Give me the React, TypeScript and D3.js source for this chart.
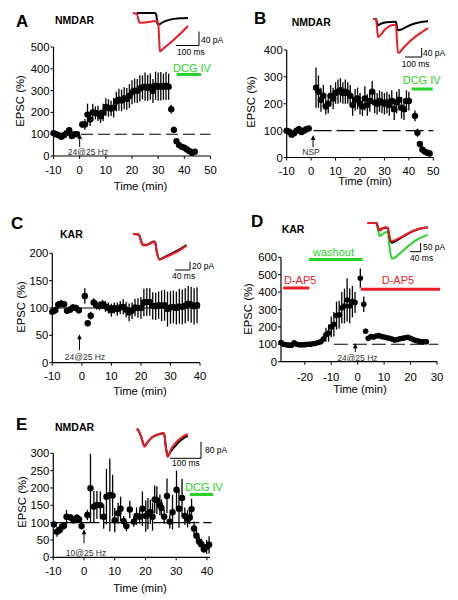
import React from 'react';
import * as d3 from 'd3';

// ---------------- DATA ----------------
// Panel A (NMDAR, 24@25 Hz)
const A_time = [-10,-9,-8,-7,-6,-5,-4,-3,-2,-1,1,2,3,4,5,6,7,8,9,10,11,12,13,14,15,16,17,18,19,20,21,22,23,24,25,26,27,28,29,30,31,32,33,34,35,36,37,38,39,40,41,42,43,44];
const A_value = [105,100,95,88,95,105,118,92,100,100,145,145,190,168,200,198,195,182,200,225,220,218,222,250,258,255,265,262,275,292,300,298,310,315,318,312,318,298,322,318,320,318,322,318,215,120,68,50,42,38,30,22,15,20];
const A_err = [8,8,6,8,8,10,12,8,8,8,15,25,50,30,40,30,35,30,40,40,40,35,45,45,50,50,50,50,55,55,55,55,60,55,65,60,60,55,65,65,65,60,65,60,20,15,10,8,6,6,5,5,5,5];

// Panel B (NMDAR, NSP)
const B_time = [-10,-9,-8,-7,-6,-5,-4,-3,-2,-1,2,3,4,5,6,7,8,9,10,11,12,13,14,15,16,17,18,19,20,21,22,23,24,25,26,27,28,29,30,31,32,33,34,35,36,37,38,39,40,42.5,43.5,44.5,45.5,46.5,47.5,48.5];
const B_value = [100,96,85,90,100,105,95,100,105,108,260,245,215,230,190,200,230,220,240,245,250,240,245,240,230,195,215,220,200,190,220,195,210,245,205,200,210,205,200,205,195,210,180,205,215,185,180,210,210,155,92,50,30,22,18,15];
const B_err = [8,8,8,8,8,8,8,8,8,8,75,60,45,40,30,35,40,40,40,45,45,40,45,40,40,40,40,40,40,35,45,40,40,40,40,40,40,40,40,40,40,40,40,40,40,40,40,40,35,20,15,6,5,5,5,5];

// Panel C (KAR, 24@25 Hz)
const C_time = [-10,-9,-8,-7,-6,-5,-4,-3,-2,-1,1,2,3,4,5,6,7,8,9,10,11,12,13,14,15,16,17,18,19,20,21,22,23,24,25,26,27,28,29,30,31,32,33,34,35,36,37,38,39];
const C_value = [93,96,106,108,107,95,97,101,100,96,122,72,86,110,105,104,107,103,100,96,100,98,101,102,97,92,95,101,100,100,110,111,111,104,103,105,104,105,98,101,102,100,103,102,104,108,106,103,105];
const C_err = [6,6,7,7,6,6,6,6,6,6,14,5,7,8,8,8,8,10,10,12,10,12,12,14,14,16,15,16,18,20,25,25,25,25,25,25,28,28,32,30,30,30,32,32,32,32,33,33,33];

// Panel D (KAR, D-AP5 / washout)
const D_time = [-29,-28,-27,-26,-25,-24,-23,-22,-21,-20,-19,-18,-17,-16,-15,-14,-13,-12,-11,-10,-9,-8,-7,-6,-5,-4,-3,-2,-1,1,2.3,3,4,5,6,7,8,9,10,11,12,13,14,15,16,17,18,19,20,21,22,23,24,25,26];
const D_value = [110,100,97,95,95,108,100,97,97,98,100,100,103,105,110,115,130,155,165,200,215,265,270,310,320,355,320,345,340,480,330,175,135,145,142,148,150,145,142,138,135,130,125,128,132,135,138,140,135,128,122,118,115,115,115];
const D_err = [8,8,8,8,8,8,8,8,8,8,8,8,8,10,12,15,20,40,50,60,70,80,80,90,100,125,100,90,60,55,45,15,12,12,12,12,12,12,12,12,12,12,12,12,12,12,12,12,12,12,12,12,12,12,12];

// Panel E (NMDAR, 10@25 Hz)
const E_time = [-9.8,-8.8,-7.9,-7.2,-6.5,-5.7,-4.4,-3.4,-2.3,-1.6,-0.8,1.1,2.1,3.2,4.2,5.3,6.4,7.3,8.4,9.3,10,11.1,11.9,12.9,13.8,14.9,16.2,17.1,18.1,19,20.1,20.8,21.6,22.3,23,23.7,24.7,25.2,26.1,27,27.9,28.8,30.1,30.9,31.9,32.8,33.7,34.4,35,35.8,36.6,37.5,38.2,39,39.9,40.7];
const E_value = [95,74,79,88,91,117,115,107,114,109,90,122,199,146,151,150,117,175,180,178,107,127,140,104,90,138,103,119,117,140,119,126,131,117,167,165,151,142,117,177,103,130,195,140,171,119,111,115,139,83,62,45,38,23,30,36];
const E_err = [10,15,12,10,10,20,10,10,10,8,10,15,100,45,40,40,35,80,105,60,35,30,35,15,15,25,15,25,20,50,45,45,35,40,40,40,30,25,20,50,20,50,55,55,55,25,25,20,30,20,20,15,15,10,20,25];

// Tick labels
const TICKS_X_A = [-10, 0, 10, 20, 30, 40, 50];
const TICKS_Y_A = [0, 100, 200, 300, 400, 500];
const TICKS_X_B = [-10, 0, 10, 20, 30, 40, 50];
const TICKS_Y_B = [0, 100, 200, 300, 400];
const TICKS_X_C = [-10, 0, 10, 20, 30, 40];
const TICKS_Y_C = [0, 50, 100, 150, 200];
const TICKS_X_D = [-20, -10, 0, 10, 20, 30];
const TICKS_Y_D = [0, 100, 200, 300, 400, 500, 600];
const TICKS_X_E = [-10, 0, 10, 20, 30, 40];
const TICKS_Y_E = [0, 50, 100, 150, 200, 250, 300];

// Inset traces (ms, pA)
const TA_red_ms = [0, 17, 24, 28, 52, 83, 104, 110, 114, 117, 130, 161, 191, 217, 239];
const TA_red_pA = [0, -3, -20, -28, -27, -24, -23, -30, -80, -110, -103, -86, -68, -52, -37];
const TA_blk_ms = [16, 52, 96, 102, 106, 111, 130, 161, 204, 239];
const TA_blk_pA = [0, 0, 0, -8, -30, -33, -26, -19, -15, -14];

const TB_red_ms = [0, 18, 24, 30, 45, 70, 100, 130, 138, 143, 150, 160, 180, 220, 260, 300, 330];
const TB_red_pA = [0, 0, -40, -80, -72, -48, -32, -26, -28, -90, -150, -148, -130, -100, -75, -55, -40];
const TB_blk_ms = [0, 18, 24, 30, 50, 80, 130, 138, 143, 150, 165, 200, 250, 300, 330];
const TB_blk_pA = [0, 0, -15, -28, -20, -14, -12, -13, -35, -50, -48, -35, -20, -12, -10];

const TC_ms = [0, 15, 20, 25, 35, 45, 55, 58, 62, 70, 80, 100, 120, 142];
const TC_red_pA = [0, -2, -15, -27, -27, -23, -19, -20, -40, -62, -58, -50, -41, -28];
const TC_blk_pA = [0, -2, -14, -26, -26, -22, -18, -19, -40, -61, -57, -48, -39, -27];

const TD_ms = [0, 33, 40, 45, 55, 70, 75, 82, 90, 100, 120, 150, 180, 225];
const TD_red_pA = [0, 0, -30, -40, -30, -25, -28, -80, -105, -100, -85, -60, -40, -25];
const TD_grn_pA = [0, 0, -50, -75, -65, -52, -55, -140, -205, -200, -175, -135, -100, -68];
const TD_blk_pA = [0, 0, -32, -42, -32, -27, -30, -85, -113, -108, -90, -62, -40, -24];

const TE_ms = [0, 5, 15, 25, 35, 50, 70, 88, 95, 100, 110, 130, 150, 165];
const TE_red_pA = [0, -5, -40, -85, -65, -40, -25, -20, -100, -135, -100, -60, -35, -25];
const TE_blk_pA = [0, -5, -40, -82, -63, -40, -26, -21, -95, -130, -108, -72, -45, -32];

// ---------------- STYLE ----------------
const FONT = 'Liberation Sans, Arial, Helvetica, sans-serif';
const RED = '#ec1c24';
const GREEN = '#27d327';
const GREY = '#333';

type Bar = { text: string; color: string; tx: number; ty: number; x1: number; x2: number; y: number };

type PanelProps = {
  letter: string; letterX: number; letterY: number;
  sub: string; subX: number; subY: number;
  xDomain: [number, number]; xRange: [number, number];
  yDomain: [number, number]; yRange: [number, number];
  xTicks: number[]; yTicks: number[];
  time: number[]; value: number[]; err: number[]; r: number;
  yLabelX: number; yLabelY: number;
  timeLabelX: number; tickOff: number; titleOff: number;
  ref: { from: number; to: number; dash: string | null };
  arrow: { t: number; tip: number; bottom: number; label: string; lx: number; ly: number };
  bars: Bar[];
};

function Panel(p: PanelProps) {
  const sx = d3.scaleLinear().domain(p.xDomain).range(p.xRange);
  const sy = d3.scaleLinear().domain(p.yDomain).range(p.yRange);
  const y0 = p.yRange[0];
  const x0 = p.xRange[0];
  const ax = sx(p.arrow.t);
  return (
    <g fontFamily={FONT}>
      <text x={p.letterX} y={p.letterY} fontSize={17} fontWeight="bold">{p.letter}</text>
      <text x={p.subX} y={p.subY} fontSize={10.5} fontWeight="bold">{p.sub}</text>
      <line x1={sx(p.ref.from)} x2={sx(p.ref.to)} y1={sy(100)} y2={sy(100)} stroke="#000" strokeWidth={1.1}
        strokeDasharray={p.ref.dash ?? undefined} />
      <line x1={x0} x2={p.xRange[1]} y1={y0} y2={y0} stroke="#000" strokeWidth={1.2} />
      <line x1={x0} x2={x0} y1={y0} y2={p.yRange[1]} stroke="#000" strokeWidth={1.2} />
      {p.xTicks.map(t => (
        <g key={'x' + t}>
          <line x1={sx(t)} x2={sx(t)} y1={y0} y2={y0 + 3} stroke="#000" />
          <text x={sx(t)} y={y0 + p.tickOff} fontSize={11.3} textAnchor="middle">{t}</text>
        </g>
      ))}
      {p.yTicks.map(t => (
        <g key={'y' + t}>
          <line x1={x0 - 3} x2={x0} y1={sy(t)} y2={sy(t)} stroke="#000" />
          <text x={x0 - 4} y={sy(t) + 4} fontSize={11.3} textAnchor="end">{t}</text>
        </g>
      ))}
      <text x={p.timeLabelX} y={y0 + p.titleOff} fontSize={11.3} textAnchor="middle">Time (min)</text>
      <text transform={`translate(${p.yLabelX},${p.yLabelY}) rotate(-90)`} fontSize={11.3} textAnchor="middle">EPSC (%)</text>
      {p.time.map((t, i) => (
        <line key={'e' + i} x1={sx(t)} x2={sx(t)} y1={sy(Math.max(0, p.value[i] - p.err[i]))} y2={sy(p.value[i] + p.err[i])}
          stroke="#000" strokeWidth={1.3} />
      ))}
      {p.time.map((t, i) => (
        <circle key={'c' + i} cx={sx(t)} cy={sy(p.value[i])} r={p.r} fill="#000" />
      ))}
      <line x1={ax} x2={ax} y1={p.arrow.bottom} y2={p.arrow.tip + 3} stroke="#000" strokeWidth={1} />
      <path d={`M${ax},${p.arrow.tip} L${ax - 2.3},${p.arrow.tip + 5} L${ax + 2.3},${p.arrow.tip + 5} Z`} fill="#000" />
      <text x={p.arrow.lx} y={p.arrow.ly} fontSize={8.5} fill={GREY} textAnchor="middle">{p.arrow.label}</text>
      {p.bars.map((b, i) => (
        <g key={'b' + i}>
          <text x={b.tx} y={b.ty} fontSize={11} fill={b.color}>{b.text}</text>
          <line x1={b.x1} x2={b.x2} y1={b.y} y2={b.y} stroke={b.color} strokeWidth={3} />
        </g>
      ))}
    </g>
  );
}

type Trace = { ms: number[]; pA: number[]; color: string };
type InsetProps = {
  x0: number; y0: number; pxMs: number; pxPA: number; traces: Trace[];
  cx: number; cy: number; barMs: number; barPA: number;
  paLabel: string; msLabel: string; paX: number; paY: number; msX: number; msY: number;
};

function Inset(p: InsetProps) {
  const ix = d3.scaleLinear().domain([0, 100]).range([p.x0, p.x0 + 100 * p.pxMs]);
  const iy = d3.scaleLinear().domain([0, -100]).range([p.y0, p.y0 + 100 * p.pxPA]);
  const gen = d3.line<[number, number]>().x(d => d[0]).y(d => d[1]).curve(d3.curveMonotoneX);
  return (
    <g fontFamily={FONT}>
      {p.traces.map((tr, k) => {
        const pts = tr.ms.map((m, i) => [ix(m), iy(tr.pA[i])] as [number, number]);
        return <path key={k} d={gen(pts) ?? ''} fill="none" stroke={tr.color} strokeWidth={2} strokeLinejoin="round" />;
      })}
      <line x1={p.cx - p.barMs * p.pxMs} x2={p.cx} y1={p.cy} y2={p.cy} stroke="#000" strokeWidth={1} />
      <line x1={p.cx} x2={p.cx} y1={p.cy} y2={p.cy - p.barPA * p.pxPA} stroke="#000" strokeWidth={1} />
      <text x={p.paX} y={p.paY} fontSize={8.5}>{p.paLabel}</text>
      <text x={p.msX} y={p.msY} fontSize={8.5}>{p.msLabel}</text>
    </g>
  );
}

export default function App() {
  return (
    <svg width={458} height={600} style={{ position: 'absolute', left: 0, top: 0, background: '#fff' }}>
      <rect width={458} height={600} fill="#fff" />
      <Panel letter="A" letterX={16} letterY={27} sub="NMDAR" subX={55} subY={23.5}
        xDomain={[-10, 50]} xRange={[53.5, 210.5]} yDomain={[0, 500]} yRange={[156, 47]}
        xTicks={TICKS_X_A} yTicks={TICKS_Y_A} time={A_time} value={A_value} err={A_err} r={3.2}
        yLabelX={23.5} yLabelY={101} timeLabelX={140.5} tickOff={17.5} titleOff={34}
        ref={{ from: 0.5, to: 50, dash: '12,5' }}
        arrow={{ t: 0, tip: 134, bottom: 147, label: '24@25 Hz', lx: 88, ly: 155 }}
        bars={[{ text: 'DCG IV', color: GREEN, tx: 173, ty: 72, x1: 176.7, x2: 201, y: 74.5 }]} />
      <Inset x0={133} y0={13} pxMs={0.23} pxPA={0.35}
        traces={[{ ms: TA_blk_ms, pA: TA_blk_pA, color: '#000' }, { ms: TA_red_ms, pA: TA_red_pA, color: RED }]}
        cx={199} cy={45.5} barMs={100} barPA={40} paLabel="40 pA" msLabel="100 ms" paX={201} paY={43} msX={177} msY={54.5} />

      <Panel letter="B" letterX={254} letterY={24} sub="NMDAR" subX={291.7} subY={26}
        xDomain={[-10, 50]} xRange={[286.7, 433.3]} yDomain={[0, 400]} yRange={[157.5, 50]}
        xTicks={TICKS_X_B} yTicks={TICKS_Y_B} time={B_time} value={B_value} err={B_err} r={3.2}
        yLabelX={255} yLabelY={102} timeLabelX={365} tickOff={17} titleOff={27.5}
        ref={{ from: 1, to: 50, dash: '18,5' }}
        arrow={{ t: 0.8, tip: 135, bottom: 147.3, label: 'NSP', lx: 311, ly: 154.5 }}
        bars={[{ text: 'DCG IV', color: GREEN, tx: 402.7, ty: 84, x1: 411.7, x2: 432.7, y: 89 }]} />
      <Inset x0={373} y0={19} pxMs={0.167} pxPA={0.225}
        traces={[{ ms: TB_blk_ms, pA: TB_blk_pA, color: '#000' }, { ms: TB_red_ms, pA: TB_red_pA, color: RED }]}
        cx={421.7} cy={57} barMs={100} barPA={40} paLabel="40 pA" msLabel="100 ms" paX={423} paY={55.5} msX={401.7} msY={67} />

      <Panel letter="C" letterX={11} letterY={229} sub="KAR" subX={60} subY={237.5}
        xDomain={[-10, 40]} xRange={[52.3, 200]} yDomain={[0, 200]} yRange={[362.7, 253.3]}
        xTicks={TICKS_X_C} yTicks={TICKS_Y_C} time={C_time} value={C_value} err={C_err} r={3.2}
        yLabelX={25} yLabelY={307} timeLabelX={140} tickOff={17.3} titleOff={32}
        ref={{ from: -10, to: 40, dash: null }}
        arrow={{ t: -0.8, tip: 334.3, bottom: 350, label: '24@25 Hz', lx: 85, ly: 360 }}
        bars={[]} />
      <Inset x0={133.3} y0={234} pxMs={0.375} pxPA={0.415}
        traces={[{ ms: TC_ms, pA: TC_blk_pA, color: '#000' }, { ms: TC_ms, pA: TC_red_pA, color: RED }]}
        cx={190} cy={270} barMs={40} barPA={20} paLabel="20 pA" msLabel="40 ms" paX={192} paY={268.5} msX={172} msY={278.5} />

      <Panel letter="D" letterX={251} letterY={227} sub="KAR" subX={281.7} subY={233.3}
        xDomain={[-29, 30]} xRange={[281, 437]} yDomain={[0, 600]} yRange={[361.7, 257.3]}
        xTicks={TICKS_X_D} yTicks={TICKS_Y_D} time={D_time} value={D_value} err={D_err} r={2.8}
        yLabelX={251.5} yLabelY={309} timeLabelX={360} tickOff={19} titleOff={31}
        ref={{ from: -9, to: 30.5, dash: '14,5' }}
        arrow={{ t: -0.9, tip: 343.3, bottom: 352, label: '24@25 Hz', lx: 357.4, ly: 360.7 }}
        bars={[
          { text: 'washout', color: GREEN, tx: 313, ty: 256, x1: 309, x2: 362.7, y: 259.5 },
          { text: 'D-AP5', color: RED, tx: 284, ty: 284.3, x1: 283.3, x2: 309.3, y: 288 },
          { text: 'D-AP5', color: RED, tx: 381.7, ty: 284.3, x1: 360.7, x2: 440, y: 289.3 },
        ]} />
      <Inset x0={367.7} y0={223} pxMs={0.267} pxPA={0.174}
        traces={[{ ms: TD_ms, pA: TD_grn_pA, color: GREEN }, { ms: TD_ms, pA: TD_blk_pA, color: '#000' }, { ms: TD_ms, pA: TD_red_pA, color: RED }]}
        cx={420.7} cy={251.7} barMs={40} barPA={50} paLabel="50 pA" msLabel="40 ms" paX={423} paY={250} msX={410} msY={261} />

      <Panel letter="E" letterX={16} letterY={429.5} sub="NMDAR" subX={55} subY={430.7}
        xDomain={[-10, 41]} xRange={[53.3, 210]} yDomain={[0, 300]} yRange={[557.3, 453.3]}
        xTicks={TICKS_X_E} yTicks={TICKS_Y_E} time={E_time} value={E_value} err={E_err} r={3.2}
        yLabelX={26} yLabelY={502} timeLabelX={140} tickOff={17.7} titleOff={34.7}
        ref={{ from: -10, to: 41.5, dash: '46,4' }}
        arrow={{ t: 0, tip: 529.3, bottom: 543.3, label: '10@25 Hz', lx: 86, ly: 555.7 }}
        bars={[{ text: 'DCG IV', color: GREEN, tx: 185, ty: 491, x1: 190, x2: 213.3, y: 494.5 }]} />
      <Inset x0={136.7} y0={429} pxMs={0.31} pxPA={0.2075}
        traces={[{ ms: TE_ms, pA: TE_blk_pA, color: '#000' }, { ms: TE_ms, pA: TE_red_pA, color: RED }]}
        cx={201} cy={458.3} barMs={100} barPA={80} paLabel="80 pA" msLabel="100 ms" paX={205} paY={453.3} msX={172} msY={465.7} />
    </svg>
  );
}
